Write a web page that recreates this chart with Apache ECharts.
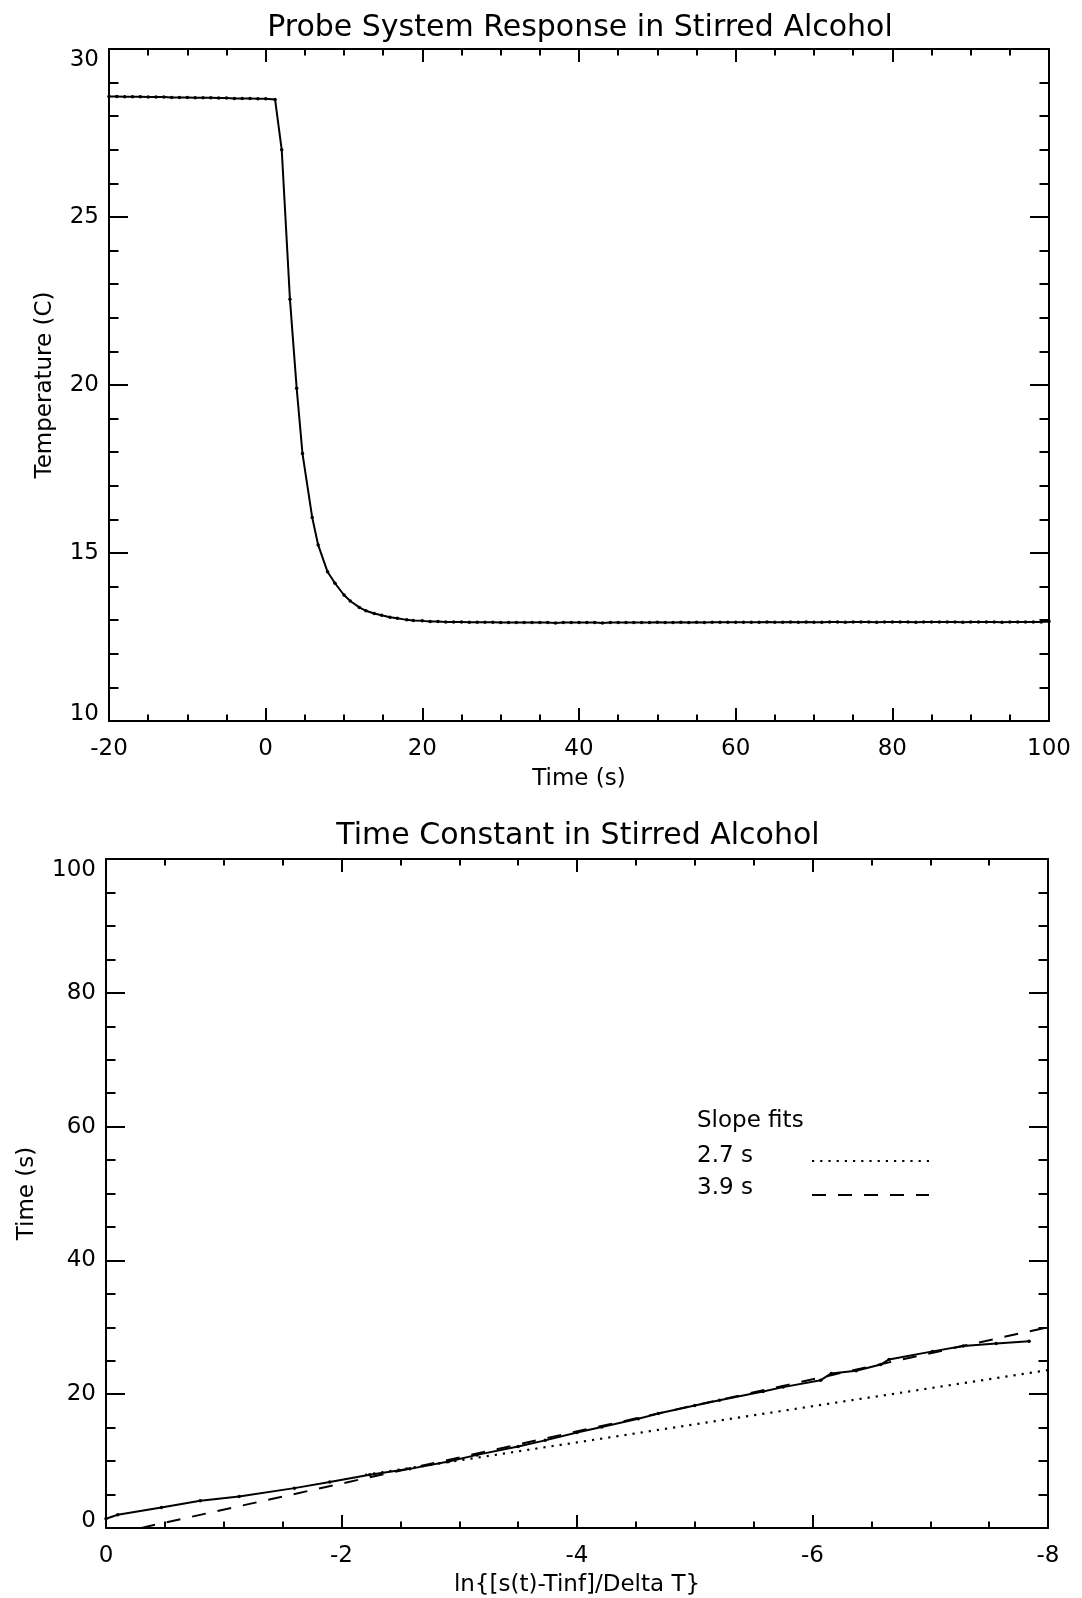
<!DOCTYPE html>
<html>
<head>
<meta charset="utf-8">
<script src="https://cdn.jsdelivr.net/npm/echarts@6/dist/echarts.min.js"></script>
<style>
html, body { margin: 0; padding: 0; background: #fff; }
#chart { width: 1082px; height: 1598px; }
</style>
</head>
<body>
<div id="chart"></div>
<script>
// top panel: probe temperature vs time
const respTime = [-20, -19, -18, -17, -16, -15, -14, -13, -12, -11, -10, -9, -8, -7, -6, -5, -4, -3, -2, -1, 0, 1.2,
    2.05, 3.1, 3.96, 4.7, 5.94, 6.7, 7.9, 8.85, 10, 10.8, 11.96, 12.8, 13.86, 14.8, 15.87, 16.8, 18, 18.85, 20,
    21, 22, 23, 24, 25, 26, 27, 28, 29, 30, 31, 32, 33, 34, 35, 36, 37, 38, 39, 40,
    41, 42, 43, 44, 45, 46, 47, 48, 49, 50, 51, 52, 53, 54, 55, 56, 57, 58, 59, 60,
    61, 62, 63, 64, 65, 66, 67, 68, 69, 70, 71, 72, 73, 74, 75, 76, 77, 78, 79, 80,
    81, 82, 83, 84, 85, 86, 87, 88, 89, 90, 91, 92, 93, 94, 95, 96, 97, 98, 99, 100];
const respTemp = [28.59, 28.59, 28.58, 28.58, 28.58, 28.57, 28.57, 28.57, 28.56, 28.56, 28.56, 28.55, 28.55, 28.55, 28.54, 28.54, 28.53, 28.53, 28.53, 28.52, 28.52, 28.50,
    27.0, 22.55, 19.9, 17.96, 16.06, 15.24, 14.44, 14.1, 13.75, 13.57, 13.38, 13.28, 13.2, 13.15, 13.09, 13.06, 13.01, 12.99, 12.98,
    12.96, 12.96, 12.95, 12.95, 12.95, 12.94, 12.94, 12.94, 12.94, 12.93, 12.93, 12.93, 12.93, 12.93, 12.93, 12.93, 12.92, 12.93, 12.93, 12.93,
    12.93, 12.93, 12.92, 12.93, 12.93, 12.93, 12.93, 12.93, 12.93, 12.94, 12.93, 12.93, 12.94, 12.93, 12.94, 12.93, 12.94, 12.94, 12.94, 12.94,
    12.94, 12.94, 12.94, 12.95, 12.94, 12.94, 12.95, 12.94, 12.95, 12.94, 12.94, 12.95, 12.95, 12.94, 12.95, 12.95, 12.95, 12.94, 12.95, 12.95,
    12.95, 12.95, 12.94, 12.95, 12.95, 12.95, 12.95, 12.95, 12.94, 12.95, 12.95, 12.95, 12.95, 12.94, 12.95, 12.95, 12.95, 12.95, 12.95, 12.96];

// bottom panel: ln ratio vs time
const lnRatio = [0, -0.1, -0.47, -0.8, -1.13, -1.6, -1.9, -2.24, -2.58, -2.91, -3.15, -3.5, -3.73, -4.0, -4.21, -4.52, -4.69,
    -5.0, -5.21, -5.58, -5.75, -6.07, -6.16, -6.37, -6.58, -6.65, -7.02, -7.28, -7.56, -7.84];
const lnTime = [1.39, 1.99, 3.08, 4.07, 4.72, 5.96, 6.86, 7.95, 8.84, 9.94, 10.93, 12.18, 13.1, 14.28, 15.1, 16.34, 17.1,
    18.3, 19.1, 20.4, 21.06, 22.1, 23.1, 23.5, 24.44, 25.2, 26.4, 27.2, 27.57, 27.9];

// slope fit lines
const fit27X = [-2.2, -8];
const fit27Y = [7.94, 23.6];
const fit39X = [-0.3, -7.97];
const fit39Y = [0.02, 29.9];

const fitNames = ['2.7 s', '3.9 s'];

const FONT = '"DejaVu Sans", Verdana, sans-serif';
const BLACK = '#000';
const LABEL_SIZE = 23;
const TITLE_SIZE = 30;

function pairs(xs, ys) {
    return xs.map((x, i) => [x, ys[i]]);
}

// one axis of a boxed plot; mirrored copies get no labels
function axis(o) {
    return {
        type: 'value',
        gridIndex: o.grid,
        position: o.position,
        min: o.min,
        max: o.max,
        interval: o.interval,
        inverse: !!o.inverse,
        name: o.name || '',
        nameLocation: 'middle',
        nameGap: o.nameGap || 0,
        nameTextStyle: { fontFamily: FONT, fontSize: LABEL_SIZE, color: BLACK },
        axisLine: { show: true, onZero: false, lineStyle: { color: BLACK, width: 2 } },
        axisTick: { show: true, inside: true, length: o.tick, lineStyle: { color: BLACK, width: 2 } },
        minorTick: { show: true, splitNumber: o.minor, length: o.tick / 2, lineStyle: { color: BLACK, width: 2 } },
        splitLine: { show: false },
        minorSplitLine: { show: false },
        axisLabel: {
            show: !!o.labels,
            margin: o.margin || 10,
            fontFamily: FONT,
            fontSize: LABEL_SIZE,
            color: BLACK,
            showMinLabel: true,
            showMaxLabel: true,
            verticalAlignMinLabel: o.vMin,
            verticalAlignMaxLabel: o.vMax,
            // lowest y label sits just above the bottom axis
            formatter: (v) => (o.vMin && v === o.min ? '{lo|' + v + '}' : String(v)),
            rich: {
                lo: { fontFamily: FONT, fontSize: LABEL_SIZE, color: BLACK, lineHeight: 14 }
            }
        }
    };
}

function textTitle(text, left, top) {
    return {
        text: text, left: left, top: top,
        textStyle: { fontFamily: FONT, fontSize: LABEL_SIZE, fontWeight: 'normal', color: BLACK }
    };
}

// legend samples only (labels are drawn as texts on the left)
function fitLegend(name, top) {
    return {
        data: [name],
        left: 811, top: top,
        padding: 0,
        itemWidth: 117, itemHeight: 14,
        selectedMode: false,
        formatter: () => '',
        textStyle: { fontSize: 8 },
        itemStyle: { color: 'rgba(0,0,0,0)', borderWidth: 0 },
        lineStyle: { width: 2 }
    };
}

const option = {
    animation: false,
    backgroundColor: '#fff',
    title: [
        {
            text: 'Probe System Response in Stirred Alcohol',
            left: 575, top: 8, textAlign: 'center',
            textStyle: { fontFamily: FONT, fontSize: TITLE_SIZE, fontWeight: 'normal', color: BLACK }
        },
        {
            text: 'Time Constant in Stirred Alcohol',
            left: 573, top: 816, textAlign: 'center',
            textStyle: { fontFamily: FONT, fontSize: TITLE_SIZE, fontWeight: 'normal', color: BLACK }
        },
        textTitle('Slope fits', 692, 1105),
        textTitle(fitNames[0], 692, 1140),
        textTitle(fitNames[1], 692, 1172)
    ],
    legend: [
        fitLegend(fitNames[0], 1154),
        fitLegend(fitNames[1], 1188)
    ],
    grid: [
        { left: 109, top: 49, width: 940, height: 672 },
        { left: 106, top: 859, width: 942, height: 671 }
    ],
    xAxis: [
        axis({ grid: 0, position: 'bottom', min: -20, max: 100, interval: 20, minor: 4, tick: 13, labels: true, margin: 17,
            name: 'Time (s)', nameGap: 47 }),
        axis({ grid: 0, position: 'top', min: -20, max: 100, interval: 20, minor: 4, tick: 13 }),
        axis({ grid: 1, position: 'bottom', min: -8, max: 0, interval: 2, minor: 4, tick: 13, inverse: true, labels: true, margin: 17,
            name: 'ln{[s(t)-Tinf]/Delta T}', nameGap: 46 }),
        axis({ grid: 1, position: 'top', min: -8, max: 0, interval: 2, minor: 4, tick: 13, inverse: true })
    ],
    yAxis: [
        axis({ grid: 0, position: 'left', min: 10, max: 30, interval: 5, minor: 5, tick: 19, labels: true, margin: 10,
            vMin: 'bottom', vMax: 'top', name: 'Temperature (C)', nameGap: 52 }),
        axis({ grid: 0, position: 'right', min: 10, max: 30, interval: 5, minor: 5, tick: 19 }),
        axis({ grid: 1, position: 'left', min: 0, max: 100, interval: 20, minor: 4, tick: 19, labels: true, margin: 10,
            vMin: 'bottom', vMax: 'top', name: 'Time (s)', nameGap: 67 }),
        axis({ grid: 1, position: 'right', min: 0, max: 100, interval: 20, minor: 4, tick: 19 })
    ],
    series: [
        {
            name: 'response',
            type: 'line',
            xAxisIndex: 0, yAxisIndex: 0,
            data: pairs(respTime, respTemp),
            symbol: 'circle', symbolSize: 3.5,
            itemStyle: { color: BLACK },
            lineStyle: { color: BLACK, width: 2 },
            z: 3
        },
        {
            name: fitNames[0],
            type: 'line',
            xAxisIndex: 2, yAxisIndex: 2,
            data: pairs(fit27X, fit27Y),
            symbol: 'none',
            itemStyle: { color: BLACK },
            lineStyle: { color: BLACK, width: 2.2, type: [2.2, 6] },
            z: 2
        },
        {
            name: fitNames[1],
            type: 'line',
            xAxisIndex: 2, yAxisIndex: 2,
            data: pairs(fit39X, fit39Y),
            symbol: 'none',
            itemStyle: { color: BLACK },
            lineStyle: { color: BLACK, width: 2, type: [14, 12] },
            z: 2
        },
        {
            name: 'ln ratio',
            type: 'line',
            xAxisIndex: 2, yAxisIndex: 2,
            data: pairs(lnRatio, lnTime),
            symbol: 'circle', symbolSize: 3.5,
            itemStyle: { color: BLACK },
            lineStyle: { color: BLACK, width: 2 },
            z: 3
        }
    ]
};

const myChart = echarts.init(document.getElementById('chart'), null, { renderer: 'canvas' });
myChart.setOption(option);
</script>
</body>
</html>
